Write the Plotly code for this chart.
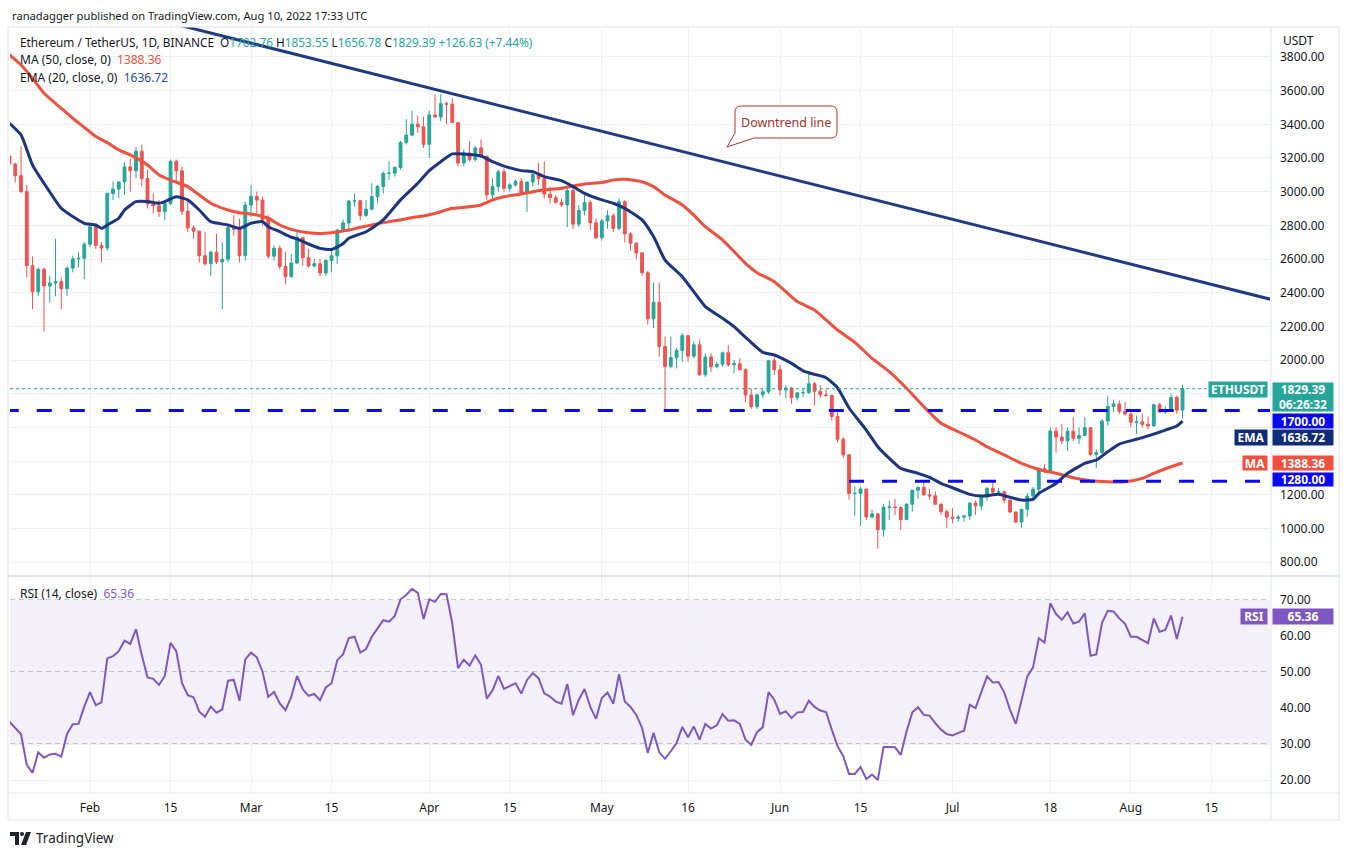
import plotly.graph_objects as go
import pandas as pd

W, H = 1349, 856
def px(x): return x / W
def py(y): return 1 - y / H

GREEN = "#26a69a"
RED = "#ef5350"
NAVY = "#1b3580"
MA_RED = "#f0513f"
LEVEL_BLUE = "#0a0af0"
PURPLE = "#7e57c2"
GRID = "#eef0f4"
FRAME = "#e0e3eb"
TXT = "#131722"
FONT = "Noto Sans"

start_date = "2022-01-18"

open_ = [3212, 3164, 3095, 3001, 2560, 2405, 2538, 2440, 2457, 2466, 2424, 2546, 2601, 2604,
         2688, 2792, 2680, 2665, 2989, 3015, 3058, 3147, 3124, 3240, 3078, 2926, 2916, 2882, 2930, 3180, 3124, 2884, 2785, 2765, 2620, 2572, 2640, 2582, 2598, 2786, 2776, 2620,
         2920, 2972, 2950, 2834, 2617, 2664, 2555, 2495, 2576, 2728, 2607, 2559, 2572, 2517, 2591, 2619, 2772, 2814, 2944, 2946, 2859, 2896, 2971, 3031, 3108, 3110, 3144, 3292, 3336, 3401, 3385,
         3281, 3456, 3444, 3522, 3520, 3410, 3170, 3230, 3190, 3260, 3210, 2981, 3030, 3118, 3020, 3040, 3060, 2990, 3057, 3102, 3077, 2985, 2964, 2936, 2921, 3007, 2807, 2889, 2935, 2815,
         2726, 2826, 2857, 2782, 2940, 2749, 2694, 2636, 2518, 2245, 2342, 2080, 1961, 2014, 2057, 2145, 2023, 2090, 1913, 2018, 1960, 1975, 2043, 1972, 1978, 1942, 1792, 1724, 1793, 1811, 1996,
         1942, 1822, 1834, 1776, 1805, 1806, 1859, 1814, 1793, 1789, 1664, 1529, 1437, 1207, 1208, 1234, 1068, 1086, 993, 1126, 1127, 1124, 1052, 1143, 1226, 1243, 1199, 1193, 1143, 1099,
         1067, 1059, 1067, 1074, 1150, 1133, 1187, 1238, 1216, 1217, 1168, 1097, 1038, 1113, 1192, 1233, 1354, 1338, 1578, 1542, 1520, 1577, 1535, 1552, 1598, 1439, 1450, 1637, 1724, 1739, 1696,
         1679, 1630, 1633, 1618, 1608, 1734, 1691, 1700, 1777, 1702.76]

high_ = [3213, 3172, 3270, 3040, 2615, 2550, 2550, 2500, 2720, 2490, 2555, 2620, 2640, 2700,
         2815, 2810, 2700, 2995, 3060, 3060, 3175, 3195, 3265, 3280, 3130, 2990, 2950, 2945, 3190, 3190, 3150, 2940, 2800, 2770, 2760, 2650, 2750, 2700, 2800, 2860, 2840, 2940,
         3040, 3000, 2970, 2860, 2680, 2680, 2640, 2630, 2770, 2730, 2660, 2600, 2600, 2600, 2660, 2780, 2835, 2950, 2990, 2950, 2950, 3050, 3040, 3120, 3180, 3150, 3300, 3430, 3480, 3450, 3445,
         3480, 3580, 3578, 3535, 3555, 3415, 3250, 3300, 3270, 3310, 3215, 3080, 3130, 3140, 3050, 3070, 3080, 3060, 3110, 3170, 3180, 3030, 2980, 2960, 3020, 3040, 2920, 2980, 2950, 2840,
         2840, 2890, 2870, 2960, 2950, 2760, 2700, 2640, 2530, 2460, 2460, 2140, 2140, 2070, 2160, 2150, 2110, 2120, 2040, 2040, 1990, 2050, 2090, 2000, 2010, 1950, 1830, 1800, 1830, 2000, 2015,
         1970, 1850, 1840, 1810, 1830, 1920, 1870, 1850, 1825, 1795, 1690, 1545, 1440, 1250, 1245, 1235, 1110, 1090, 1145, 1165, 1175, 1130, 1150, 1230, 1250, 1280, 1235, 1220, 1150, 1110,
         1120, 1080, 1080, 1155, 1165, 1190, 1245, 1280, 1240, 1225, 1170, 1100, 1115, 1210, 1245, 1365, 1380, 1600, 1600, 1620, 1600, 1660, 1600, 1660, 1600, 1470, 1650, 1785, 1765, 1760, 1750,
         1695, 1670, 1680, 1665, 1740, 1745, 1725, 1800, 1790, 1853.55]

low_ = [3053, 3055, 2990, 2490, 2300, 2380, 2170, 2340, 2380, 2300, 2380, 2520, 2550, 2480,
        2670, 2660, 2580, 2650, 2950, 2960, 2980, 3000, 3080, 3030, 2900, 2870, 2850, 2830, 2920, 3060, 2860, 2760, 2720, 2580, 2560, 2500, 2570, 2300, 2580, 2740, 2580, 2590,
        2850, 2870, 2800, 2600, 2590, 2540, 2450, 2490, 2570, 2560, 2550, 2550, 2500, 2500, 2520, 2570, 2760, 2760, 2910, 2830, 2850, 2890, 2930, 2990, 3070, 3090, 3130, 3280, 3330, 3350, 3260,
        3200, 3440, 3420, 3400, 3410, 3150, 3150, 3180, 3180, 3200, 2950, 2960, 3000, 3000, 3000, 3030, 2980, 2880, 3030, 3040, 2960, 2930, 2930, 2910, 2790, 2780, 2790, 2860, 2770, 2720,
        2710, 2780, 2760, 2770, 2700, 2650, 2600, 2500, 2210, 2190, 2020, 1700, 1950, 1950, 1990, 1990, 2010, 1905, 1900, 1930, 1950, 1960, 1960, 1920, 1940, 1750, 1710, 1710, 1775, 1800, 1910,
        1790, 1775, 1740, 1760, 1780, 1800, 1730, 1775, 1780, 1640, 1510, 1420, 1170, 1075, 1015, 1050, 1060, 880, 950, 1050, 1080, 990, 1050, 1100, 1175, 1195, 1170, 1140, 1080, 1000,
        1030, 1040, 1040, 1050, 1080, 1110, 1165, 1200, 1210, 1150, 1090, 1030, 1005, 1070, 1180, 1190, 1330, 1335, 1450, 1500, 1460, 1520, 1500, 1550, 1430, 1360, 1440, 1610, 1690, 1680, 1670,
        1600, 1560, 1600, 1590, 1605, 1690, 1680, 1695, 1680, 1656.78]

close_ = [3164, 3095, 3001, 2560, 2405, 2538, 2440, 2457, 2466, 2424, 2546, 2601, 2604, 2688,
          2792, 2680, 2665, 2989, 3015, 3058, 3147, 3124, 3240, 3078, 2926, 2916, 2882, 2930, 3180, 3124, 2884, 2785, 2765, 2620, 2572, 2640, 2582, 2598, 2786, 2776, 2620, 2920,
          2972, 2950, 2834, 2617, 2664, 2555, 2495, 2576, 2728, 2607, 2559, 2572, 2517, 2591, 2619, 2772, 2814, 2944, 2946, 2859, 2896, 2971, 3031, 3108, 3110, 3144, 3292, 3336, 3401, 3385, 3281,
          3456, 3444, 3522, 3520, 3410, 3170, 3230, 3190, 3260, 3210, 2981, 3030, 3118, 3020, 3040, 3060, 2990, 3057, 3102, 3077, 2985, 2964, 2936, 2921, 3007, 2807, 2889, 2935, 2815, 2726,
          2826, 2857, 2782, 2940, 2749, 2694, 2636, 2518, 2245, 2342, 2080, 1961, 2014, 2057, 2145, 2023, 2090, 1913, 2018, 1960, 1975, 2043, 1972, 1978, 1942, 1792, 1724, 1793, 1811, 1996, 1942,
          1822, 1834, 1776, 1805, 1806, 1859, 1814, 1793, 1789, 1664, 1529, 1437, 1207, 1208, 1234, 1068, 1086, 993, 1126, 1127, 1124, 1052, 1143, 1226, 1243, 1199, 1193, 1143, 1099, 1067,
          1059, 1067, 1074, 1150, 1133, 1187, 1238, 1216, 1217, 1168, 1097, 1038, 1113, 1192, 1233, 1354, 1338, 1578, 1542, 1520, 1577, 1535, 1552, 1598, 1439, 1450, 1637, 1724, 1739, 1696, 1679,
          1630, 1633, 1618, 1608, 1734, 1691, 1700, 1777, 1702, 1829.39]

rsi_ = [36.2, 34.4, 32.7, 24.2, 22.0, 27.7, 26.2, 27.1, 27.3, 26.5, 32.8, 35.5, 35.6, 40.4,
        44.4, 40.8, 41.6, 53.8, 54.4, 55.8, 58.7, 57.8, 61.9, 54.7, 48.5, 48.1, 46.4, 48.9, 58.1, 55.8, 46.9, 43.6, 43.0, 39.0, 37.6, 40.4, 38.7, 39.6, 47.6, 47.8, 42.0, 53.5,
        55.4, 54.1, 50.1, 43.1, 44.5, 41.3, 39.4, 43.1, 48.9, 45.2, 43.4, 43.9, 42.2, 45.7, 46.9, 53.3, 54.9, 59.4, 59.8, 55.4, 56.4, 59.8, 62.1, 64.4, 64.0, 65.6, 70.2, 71.4, 73.1, 72.0, 64.7,
        70.2, 69.5, 71.7, 71.6, 63.5, 51.1, 53.4, 51.8, 54.6, 52.0, 42.6, 44.9, 48.9, 45.3, 46.0, 46.9, 44.0, 47.8, 49.7, 48.3, 44.1, 43.2, 41.8, 41.2, 46.7, 38.0, 42.3, 45.3, 40.3, 37.0,
        42.8, 44.3, 41.2, 49.4, 41.8, 40.3, 38.1, 34.5, 27.5, 33.1, 27.7, 25.9, 28.0, 30.3, 34.7, 31.9, 34.9, 31.2, 35.6, 34.3, 35.2, 38.3, 36.5, 36.6, 35.6, 31.2, 29.8, 33.3, 34.7, 44.4, 42.3,
        38.4, 39.1, 37.2, 38.8, 38.9, 42.0, 40.3, 39.3, 38.9, 34.0, 29.4, 26.6, 21.7, 21.7, 23.6, 20.3, 21.5, 20.0, 29.2, 29.2, 29.1, 27.0, 33.5, 38.8, 40.2, 38.1, 37.9, 35.8, 34.0, 32.8,
        32.4, 33.1, 33.7, 40.9, 40.0, 44.4, 48.8, 47.1, 47.2, 44.3, 39.5, 35.6, 42.3, 48.8, 51.3, 59.4, 58.2, 69.1, 66.1, 64.5, 66.6, 63.5, 64.0, 66.3, 54.5, 54.9, 63.7, 67.0, 66.8, 64.9, 63.4,
        59.8, 59.8, 58.9, 58.0, 64.9, 61.2, 61.7, 65.7, 59.2, 65.36]

ema_day = [0, 2, 4, 6, 9, 11, 13, 15, 16, 17, 19, 20, 22, 24, 26, 27, 29, 31, 33, 35, 38, 40, 42, 44, 45, 47, 49, 50, 52, 54, 56, 58, 59, 62, 65, 68, 71, 73, 75, 77, 79, 82, 84, 86, 89, 91, 93, 96, 98, 100, 103, 105, 107, 110, 112, 114, 117, 119, 121, 124, 126, 128, 131, 133, 136, 138, 140, 142, 144, 146, 149, 151, 153, 155, 158, 160, 162, 165, 167, 169, 172, 173, 176, 178, 179, 182, 184, 187, 189, 191, 193, 196, 198, 201, 203, 204]
ema_val = [3406, 3337, 3158, 3050, 2901, 2852, 2812, 2802, 2782, 2802, 2842, 2891, 2941, 2941, 2931, 2941, 2970, 2951, 2891, 2822, 2802, 2782, 2812, 2822, 2792, 2762, 2729, 2720, 2689, 2663, 2657, 2690, 2723, 2762, 2832, 2951, 3050, 3125, 3178, 3224, 3224, 3212, 3178, 3152, 3125, 3119, 3089, 3065, 3030, 2990, 2951, 2931, 2901, 2832, 2733, 2594, 2495, 2406, 2317, 2248, 2198, 2135, 2045, 2030, 1980, 1936, 1915, 1895, 1835, 1715, 1584, 1485, 1416, 1356, 1327, 1303, 1267, 1228, 1202, 1192, 1202, 1194, 1168, 1172, 1208, 1267, 1327, 1386, 1406, 1455, 1501, 1529, 1549, 1584, 1608, 1636.72]

ma_day = [0, 2, 4, 6, 9, 11, 13, 15, 17, 19, 21, 24, 26, 28, 31, 33, 35, 38, 40, 42, 45, 47, 49, 52, 54, 56, 59, 61, 63, 66, 68, 70, 72, 74, 77, 79, 82, 84, 86, 89, 91, 93, 96, 98, 100, 103, 105, 107, 110, 112, 114, 117, 119, 121, 124, 126, 128, 130, 133, 135, 137, 140, 142, 144, 147, 150, 153, 156, 159, 162, 165, 168, 170, 173, 176, 179, 182, 185, 188, 191, 194, 197, 199, 202, 204]
ma_val = [3812, 3752, 3673, 3584, 3495, 3436, 3382, 3327, 3291, 3248, 3218, 3158, 3099, 3069, 3030, 2980, 2931, 2891, 2875, 2867, 2842, 2802, 2776, 2756, 2752, 2756, 2772, 2788, 2802, 2822, 2832, 2846, 2856, 2871, 2901, 2907, 2921, 2951, 2970, 2986, 3000, 3010, 3020, 3034, 3046, 3054, 3069, 3073, 3059, 3030, 2980, 2921, 2861, 2792, 2713, 2644, 2574, 2519, 2465, 2406, 2347, 2297, 2238, 2178, 2105, 2010, 1931, 1832, 1723, 1624, 1574, 1525, 1485, 1436, 1386, 1350, 1327, 1301, 1283, 1277, 1277, 1297, 1327, 1366, 1388.36]

trend_dates = ["2022-02-10", "2022-08-26"]
trend_vals = [4045, 2355]

level_values = [1700, 1280]
level_starts = ["2022-01-17", "2022-06-13"]

x_tick_dates = ["2022-02-01", "2022-02-15", "2022-03-01", "2022-03-15", "2022-04-01", "2022-04-15",
                "2022-05-01", "2022-05-16", "2022-06-01", "2022-06-15", "2022-07-01", "2022-07-18",
                "2022-08-01", "2022-08-15"]
x_tick_text = ["Feb", "15", "Mar", "15", "Apr", "15", "May", "16", "Jun", "15", "Jul", "18", "Aug", "15"]
price_ticks = list(range(800, 3801, 200))
hidden_price_ticks = [1400, 1600, 1800]   # covered by the price tags in the reference
rsi_ticks = [20, 30, 40, 50, 60, 70]
rsi_levels = [70, 50, 30]

last_open, last_high, last_low, last_close = 1702.76, 1853.55, 1656.78, 1829.39
change, change_pct = 126.63, 7.44
ma_last, ema_last, rsi_last = 1388.36, 1636.72, 65.36

dates = pd.date_range(start_date, periods=len(close_), freq="D")
X_RANGE = ["2022-01-18 02:00", "2022-08-25 05:00"]

fig = go.Figure()

fig.add_trace(go.Scatter(
    x=[dates[i] for i in ma_day], y=ma_val, mode="lines",
    line=dict(color=MA_RED, width=3, shape="spline", smoothing=0.5),
    hoverinfo="skip", showlegend=False, xaxis="x", yaxis="y"))
fig.add_trace(go.Scatter(
    x=[dates[i] for i in ema_day], y=ema_val, mode="lines",
    line=dict(color=NAVY, width=3, shape="spline", smoothing=0.5),
    hoverinfo="skip", showlegend=False, xaxis="x", yaxis="y"))
fig.add_trace(go.Candlestick(
    x=dates, open=open_, high=high_, low=low_, close=close_,
    increasing=dict(line=dict(color=GREEN, width=1), fillcolor=GREEN),
    decreasing=dict(line=dict(color=RED, width=1), fillcolor=RED),
    whiskerwidth=0, hoverinfo="skip", showlegend=False, xaxis="x", yaxis="y"))
fig.add_trace(go.Scatter(
    x=trend_dates, y=trend_vals, mode="lines",
    line=dict(color="#1f3b85", width=3),
    hoverinfo="skip", showlegend=False, xaxis="x", yaxis="y"))
fig.add_trace(go.Scatter(
    x=dates, y=rsi_, mode="lines", line=dict(color=PURPLE, width=2),
    hoverinfo="skip", showlegend=False, xaxis="x2", yaxis="y2"))

XDOM = [px(10), px(1270)]
axis_font = dict(family=FONT, size=12, color=TXT)
price_text = ["" if v in hidden_price_ticks else f"{v:.2f}" for v in price_ticks]

fig.update_layout(
    width=W, height=H, autosize=False,
    margin=dict(l=0, r=0, t=0, b=0),
    paper_bgcolor="white", plot_bgcolor="white",
    font=dict(family=FONT, size=12, color=TXT),
    showlegend=False,
    xaxis=dict(domain=XDOM, anchor="y", type="date", range=X_RANGE,
               tickvals=x_tick_dates, ticktext=x_tick_text, showticklabels=False,
               showgrid=True, gridcolor=GRID, gridwidth=1, zeroline=False,
               rangeslider=dict(visible=False), showline=False, ticks=""),
    yaxis=dict(domain=[py(575), py(27)], anchor="x", side="right", range=[723, 3978],
               tickvals=price_ticks, ticktext=price_text, showgrid=True, gridcolor=GRID,
               zeroline=False, ticks="", tickfont=axis_font, ticklabelstandoff=9,
               showline=False),
    xaxis2=dict(domain=XDOM, anchor="y2", type="date", range=X_RANGE, matches="x",
                tickvals=x_tick_dates, ticktext=x_tick_text, showticklabels=True,
                showgrid=True, gridcolor=GRID, zeroline=False, ticks="",
                tickfont=axis_font, ticklabelstandoff=6, showline=False),
    yaxis2=dict(domain=[py(793), py(577)], anchor="x2", side="right", range=[16.4, 76.4],
                tickvals=rsi_ticks, tickformat=".2f", showgrid=True, gridcolor=GRID,
                zeroline=False, ticks="", tickfont=axis_font, ticklabelstandoff=9,
                showline=False),
)

shapes = []
# RSI band and levels
shapes.append(dict(type="rect", xref="x2 domain", yref="y2", x0=0, x1=1, y0=30, y1=70,
                   fillcolor="rgba(126,87,194,0.09)", line=dict(width=0), layer="below"))
for lv in rsi_levels:
    shapes.append(dict(type="line", xref="x2 domain", yref="y2", x0=0, x1=1, y0=lv, y1=lv,
                       line=dict(color="#8a8d96", width=1, dash="5px,4px"), layer="below"))
# horizontal support/resistance levels
for lv, st in zip(level_values, level_starts):
    shapes.append(dict(type="line", xref="x", yref="y", x0=st, x1=X_RANGE[1], y0=lv, y1=lv,
                       line=dict(color=LEVEL_BLUE, width=3, dash="15px,18px")))
# last price dotted line
shapes.append(dict(type="line", xref="x domain", yref="y", x0=0, x1=1, y0=last_close, y1=last_close,
                   line=dict(color=GREEN, width=1, dash="dot")))
# frame
shapes.append(dict(type="rect", xref="paper", yref="paper", x0=px(8), x1=px(1339), y0=py(820), y1=py(27),
                   line=dict(color=FRAME, width=1), layer="above"))
shapes.append(dict(type="line", xref="paper", yref="paper", x0=px(1271), x1=px(1271), y0=py(820), y1=py(27),
                   line=dict(color=FRAME, width=1)))
shapes.append(dict(type="line", xref="paper", yref="paper", x0=px(8), x1=px(1339), y0=py(576), y1=py(576),
                   line=dict(color=FRAME, width=2)))
shapes.append(dict(type="line", xref="paper", yref="paper", x0=px(8), x1=px(1339), y0=py(793), y1=py(793),
                   line=dict(color=FRAME, width=1)))

# callout bubble
def P(x, y): return f"{px(x):.5f},{py(y):.5f}"
x0b, x1b, y0b, y1b, r = 735, 837, 106, 138, 6
path = ("M " + P(x0b + r, y0b) + " L " + P(x1b - r, y0b) + " Q " + P(x1b, y0b) + " " + P(x1b, y0b + r) +
        " L " + P(x1b, y1b - r) + " Q " + P(x1b, y1b) + " " + P(x1b - r, y1b) +
        " L " + P(754, y1b) + " L " + P(727, 147) + " L " + P(x0b, 133) +
        " L " + P(x0b, y0b + r) + " Q " + P(x0b, y0b) + " " + P(x0b + r, y0b) + " Z")
shapes.append(dict(type="path", xref="paper", yref="paper", path=path,
                   fillcolor="white", line=dict(color="#b5332e", width=1)))

# TradingView logo mark (bottom-left)
logo = ("M " + P(10, 832) + " L " + P(19, 832) + " L " + P(19, 845) + " L " + P(15, 845) +
        " L " + P(15, 836) + " L " + P(10, 836) + " Z")
shapes.append(dict(type="path", xref="paper", yref="paper", path=logo,
                   fillcolor="#1e222d", line=dict(width=0)))
shapes.append(dict(type="circle", xref="paper", yref="paper", x0=px(20), x1=px(24), y0=py(836), y1=py(832),
                   fillcolor="#1e222d", line=dict(width=0)))
logo2 = ("M " + P(26, 832) + " L " + P(31, 832) + " L " + P(26, 845) + " L " + P(21, 845) + " Z")
shapes.append(dict(type="path", xref="paper", yref="paper", path=logo2,
                   fillcolor="#1e222d", line=dict(width=0)))
fig.update_layout(shapes=shapes)

ann = []
def text(x, y, t, size=12.5, color=TXT, xanchor="left", **kw):
    ann.append(dict(x=px(x), y=py(y), xref="paper", yref="paper", text=t, showarrow=False,
                    xanchor=xanchor, yanchor="middle", font=dict(family=FONT, size=size, color=color), **kw))

text(10, 15, "ranadagger published on TradingView.com, Aug 10, 2022 17:33 UTC", size=11.2)
g = lambda v: f"<span style='color:{GREEN}'>{v}</span>"
text(18, 42, "Ethereum / TetherUS, 1D, BINANCE  O" + g(f"{last_open:.2f}") + " H" + g(f"{last_high:.2f}") +
     " L" + g(f"{last_low:.2f}") + " C" + g(f"{last_close:.2f}") + " " + g(f"+{change:.2f} (+{change_pct:.2f}%)"), size=11.8)
text(18, 60, f"MA (50, close, 0)  <span style='color:{MA_RED}'>{ma_last:.2f}</span>", size=12)
text(18, 77, f"EMA (20, close, 0)  <span style='color:#2b4aa0'>{ema_last:.2f}</span>", size=12)
text(18, 593, f"RSI (14, close)  <span style='color:{PURPLE}'>{rsi_last:.2f}</span>", size=12)
text(1281, 40, "USDT", size=12)
text(786, 122, "Downtrend line", size=12.5, color="#a3302a", xanchor="center")
text(34, 838, "TradingView", size=13.5, color="#1e222d")

def tag(value, yref, label, bg, yshift=0, right=True, width=60, height=14):
    t = f"<b>{label}</b>"
    if right:
        ax, anc = px(1272), "left"
    else:
        ax, anc = px(1268), "right"
    ann.append(dict(x=ax, y=value, xref="paper", yref=yref, text=t, showarrow=False,
                    xanchor=anc, yanchor="middle", yshift=yshift, bgcolor=bg, width=width,
                    height=height, align="center", borderpad=0,
                    font=dict(family=FONT, size=12, color="white")))

tag(last_close, "y", f"{last_close:.2f}<br>06:26:32", GREEN, yshift=-8, height=28)
tag(last_close, "y", "ETHUSDT", GREEN, yshift=-1, right=False, width=58, height=15)
tag(level_values[0], "y", f"{level_values[0]:.2f}", LEVEL_BLUE, yshift=-10.5)
tag(ema_last, "y", f"{ema_last:.2f}", "#102c78", yshift=-16.8, height=15)
tag(ema_last, "y", "EMA", "#102c78", yshift=-16.8, right=False, width=32, height=15)
tag(ma_last, "y", f"{ma_last:.2f}", MA_RED, yshift=-0.5)
tag(ma_last, "y", "MA", MA_RED, yshift=-0.5, right=False, width=24)
tag(level_values[1], "y", f"{level_values[1]:.2f}", LEVEL_BLUE, yshift=1.5, height=13)
tag(rsi_last, "y2", f"{rsi_last:.2f}", PURPLE, height=15)
tag(rsi_last, "y2", "RSI", PURPLE, right=False, width=26, height=15)

fig.update_layout(annotations=ann)

fig.write_html("out.html", config={"displayModeBar": False},
               post_script="document.body.style.margin='0';document.body.style.overflow='hidden';")
